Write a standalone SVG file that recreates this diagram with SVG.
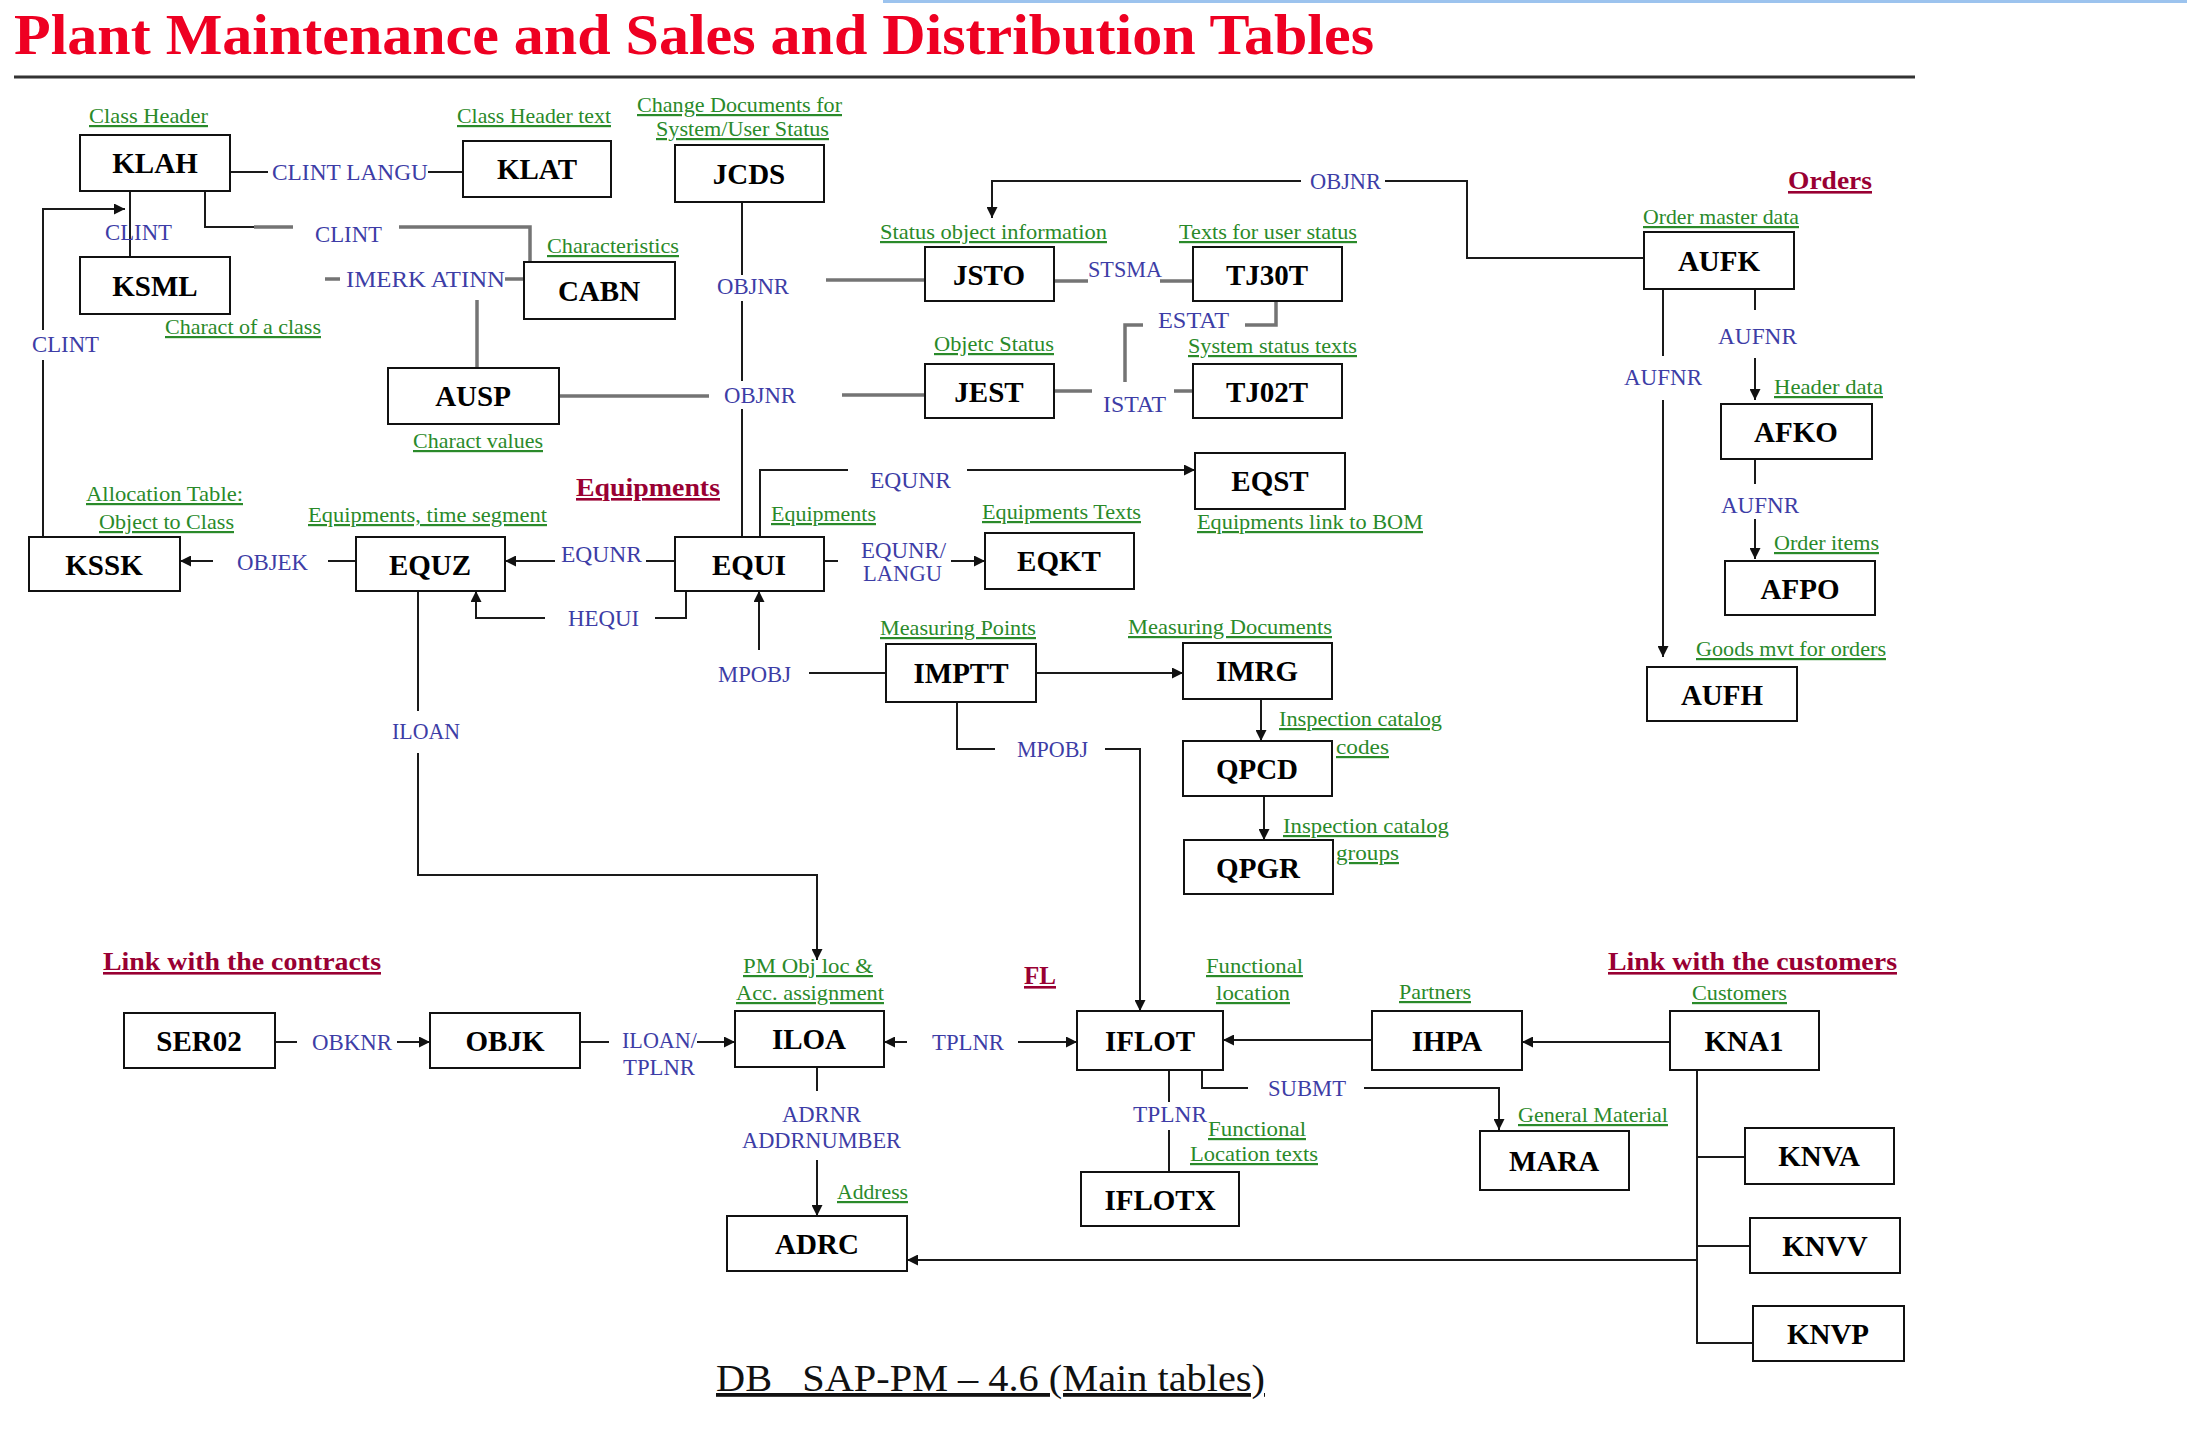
<svg xmlns="http://www.w3.org/2000/svg" width="2187" height="1445" viewBox="0 0 2187 1445">
<style>
.n rect{fill:#fff;stroke:#111;stroke-width:2}
.n text{font-family:"Liberation Serif",serif;font-weight:bold;font-size:29px;fill:#000;text-anchor:middle}
.g{font-family:"Liberation Serif",serif;font-size:22px;fill:#2a8a2a;text-decoration:underline}
.b{font-family:"Liberation Serif",serif;font-size:24px;fill:#3d3da6}
.m{font-family:"Liberation Serif",serif;font-weight:bold;font-size:26px;fill:#990033;text-decoration:underline}
.k{stroke:#1a1a1a;stroke-width:2;fill:none}
.y{stroke:#747474;stroke-width:3.5;fill:none}
.a{marker-end:url(#ah)}
</style>
<defs>
<marker id="ah" viewBox="0 0 10 10" refX="10" refY="5" markerWidth="11" markerHeight="11" markerUnits="userSpaceOnUse" orient="auto"><path d="M0,0 L10,5 L0,10 Z" fill="#111"/></marker>
</defs>
<rect width="2187" height="1445" fill="#fff"/>
<rect x="883" y="0" width="1304" height="3" fill="#9cc3ee"/>
<text x="14" y="54" font-family="Liberation Serif,serif" font-weight="bold" font-size="57" fill="#ee0022" textLength="1360" lengthAdjust="spacingAndGlyphs">Plant Maintenance and Sales and Distribution Tables</text>
<line x1="14" y1="77" x2="1915" y2="77" stroke="#333" stroke-width="3"/>

<g id="connectors">
<path class="k" d="M230,172 H268 M428,172 H463"/>
<path class="k" d="M130,191 V257"/>
<path class="k" d="M43,537 V360"/>
<path class="k a" d="M43,330 V209 H125"/>
<path class="k" d="M205,191 V227 H254"/>
<path class="y" d="M254,227 H293 M399,227 H530 V262"/>
<path class="y" d="M325,279 H340 M505,279 H524"/>
<path class="y" d="M477,300 V368"/>
<path class="y" d="M559,396 H709 M842,395 H925"/>
<path class="k" d="M742,202 V275 M742,301 V381 M742,409 V537"/>
<path class="y" d="M826,280 H925"/>
<path class="y" d="M1054,281 H1088 M1160,281 H1193"/>
<path class="y" d="M1276,301 V325 H1245 M1143,325 H1125 V382"/>
<path class="y" d="M1054,391 H1092 M1174,391 H1193"/>
<path class="k" d="M1644,258 H1467 V181 H1385"/>
<path class="k a" d="M1301,181 H992 V218"/>
<path class="k" d="M1755,289 V310"/>
<path class="k a" d="M1755,358 V400"/>
<path class="k" d="M1755,459 V484"/>
<path class="k a" d="M1755,519 V559"/>
<path class="k" d="M1663,289 V356"/>
<path class="k a" d="M1663,400 V657"/>
<path class="k" d="M760,537 V470 H848"/>
<path class="k a" d="M967,470 H1195"/>
<path class="k" d="M824,561 H838"/>
<path class="k a" d="M951,561 H985"/>
<path class="k" d="M675,561 H646"/>
<path class="k a" d="M555,561 H505"/>
<path class="k" d="M356,561 H328"/>
<path class="k a" d="M213,561 H180"/>
<path class="k" d="M686,591 V618 H655"/>
<path class="k a" d="M545,618 H476 V591"/>
<path class="k" d="M886,673 H809"/>
<path class="k a" d="M759,650 V591"/>
<path class="k a" d="M1036,673 H1183"/>
<path class="k a" d="M1261,699 V741"/>
<path class="k a" d="M1264,796 V840"/>
<path class="k" d="M957,702 V749 H995"/>
<path class="k a" d="M1105,749 H1140 V1011"/>
<path class="k" d="M418,591 V711"/>
<path class="k a" d="M418,753 V875 H817 V960"/>
<path class="k" d="M275,1042 H297"/>
<path class="k a" d="M397,1042 H430"/>
<path class="k" d="M580,1042 H609"/>
<path class="k a" d="M697,1042 H735"/>
<path class="k a" d="M907,1042 H884"/>
<path class="k a" d="M1018,1042 H1077"/>
<path class="k a" d="M1372,1040 H1223"/>
<path class="k a" d="M1670,1042 H1522"/>
<path class="k" d="M817,1067 V1091"/>
<path class="k a" d="M817,1160 V1216"/>
<path class="k" d="M1169,1070 V1102 M1169,1130 V1172"/>
<path class="k" d="M1202,1070 V1088 H1248"/>
<path class="k a" d="M1364,1088 H1499 V1130"/>
<path class="k" d="M1697,1070 V1343 H1753 M1697,1157 H1745 M1697,1246 H1750"/>
<path class="k a" d="M1697,1260 H907"/>
</g>

<g id="KLAH" class="n"><rect x="80" y="135" width="150" height="56"/><text x="155" y="173">KLAH</text></g>
<g id="KLAT" class="n"><rect x="463" y="141" width="148" height="56"/><text x="537" y="179">KLAT</text></g>
<g id="JCDS" class="n"><rect x="675" y="145" width="149" height="57"/><text x="749" y="184">JCDS</text></g>
<g id="KSML" class="n"><rect x="80" y="257" width="150" height="57"/><text x="155" y="296">KSML</text></g>
<g id="CABN" class="n"><rect x="524" y="262" width="151" height="57"/><text x="599" y="301">CABN</text></g>
<g id="JSTO" class="n"><rect x="925" y="247" width="129" height="54"/><text x="989" y="285">JSTO</text></g>
<g id="TJ30T" class="n"><rect x="1193" y="247" width="149" height="54"/><text x="1267" y="285">TJ30T</text></g>
<g id="AUSP" class="n"><rect x="388" y="368" width="171" height="56"/><text x="473" y="406">AUSP</text></g>
<g id="JEST" class="n"><rect x="925" y="364" width="129" height="54"/><text x="989" y="402">JEST</text></g>
<g id="TJ02T" class="n"><rect x="1193" y="364" width="149" height="54"/><text x="1267" y="402">TJ02T</text></g>
<g id="AUFK" class="n"><rect x="1644" y="232" width="150" height="57"/><text x="1719" y="271">AUFK</text></g>
<g id="AFKO" class="n"><rect x="1721" y="404" width="151" height="55"/><text x="1796" y="442">AFKO</text></g>
<g id="AFPO" class="n"><rect x="1725" y="561" width="150" height="54"/><text x="1800" y="599">AFPO</text></g>
<g id="AUFH" class="n"><rect x="1647" y="667" width="150" height="54"/><text x="1722" y="705">AUFH</text></g>
<g id="EQST" class="n"><rect x="1195" y="453" width="150" height="56"/><text x="1270" y="491">EQST</text></g>
<g id="KSSK" class="n"><rect x="29" y="537" width="151" height="54"/><text x="104" y="575">KSSK</text></g>
<g id="EQUZ" class="n"><rect x="356" y="537" width="149" height="54"/><text x="430" y="575">EQUZ</text></g>
<g id="EQUI" class="n"><rect x="675" y="537" width="149" height="54"/><text x="749" y="575">EQUI</text></g>
<g id="EQKT" class="n"><rect x="985" y="533" width="149" height="56"/><text x="1059" y="571">EQKT</text></g>
<g id="IMPTT" class="n"><rect x="886" y="644" width="150" height="58"/><text x="961" y="683">IMPTT</text></g>
<g id="IMRG" class="n"><rect x="1183" y="643" width="149" height="56"/><text x="1257" y="681">IMRG</text></g>
<g id="QPCD" class="n"><rect x="1183" y="741" width="149" height="55"/><text x="1257" y="779">QPCD</text></g>
<g id="QPGR" class="n"><rect x="1184" y="840" width="149" height="54"/><text x="1258" y="878">QPGR</text></g>
<g id="SER02" class="n"><rect x="124" y="1013" width="151" height="55"/><text x="199" y="1051">SER02</text></g>
<g id="OBJK" class="n"><rect x="430" y="1013" width="150" height="55"/><text x="505" y="1051">OBJK</text></g>
<g id="ILOA" class="n"><rect x="735" y="1011" width="149" height="56"/><text x="809" y="1049">ILOA</text></g>
<g id="IFLOT" class="n"><rect x="1077" y="1011" width="146" height="59"/><text x="1150" y="1051">IFLOT</text></g>
<g id="IHPA" class="n"><rect x="1372" y="1011" width="150" height="59"/><text x="1447" y="1051">IHPA</text></g>
<g id="KNA1" class="n"><rect x="1670" y="1011" width="149" height="59"/><text x="1744" y="1051">KNA1</text></g>
<g id="MARA" class="n"><rect x="1480" y="1131" width="149" height="59"/><text x="1554" y="1171">MARA</text></g>
<g id="IFLOTX" class="n"><rect x="1081" y="1172" width="158" height="54"/><text x="1160" y="1210">IFLOTX</text></g>
<g id="ADRC" class="n"><rect x="727" y="1216" width="180" height="55"/><text x="817" y="1254">ADRC</text></g>
<g id="KNVA" class="n"><rect x="1745" y="1128" width="149" height="56"/><text x="1819" y="1166">KNVA</text></g>
<g id="KNVV" class="n"><rect x="1750" y="1218" width="150" height="55"/><text x="1825" y="1256">KNVV</text></g>
<g id="KNVP" class="n"><rect x="1753" y="1306" width="151" height="55"/><text x="1828" y="1344">KNVP</text></g>

<g id="descriptions">
<text class="g" x="89" y="123" textLength="119" lengthAdjust="spacingAndGlyphs">Class Header</text>
<text class="g" x="457" y="123" textLength="154" lengthAdjust="spacingAndGlyphs">Class Header text</text>
<text class="g" x="637" y="112" textLength="205" lengthAdjust="spacingAndGlyphs">Change Documents for</text>
<text class="g" x="656" y="136" textLength="173" lengthAdjust="spacingAndGlyphs">System/User Status</text>
<text class="g" x="547" y="253" textLength="132" lengthAdjust="spacingAndGlyphs">Characteristics</text>
<text class="g" x="165" y="334" textLength="156" lengthAdjust="spacingAndGlyphs">Charact of a class</text>
<text class="g" x="880" y="239" textLength="227" lengthAdjust="spacingAndGlyphs">Status object information</text>
<text class="g" x="1179" y="239" textLength="178" lengthAdjust="spacingAndGlyphs">Texts for user status</text>
<text class="g" x="934" y="351" textLength="120" lengthAdjust="spacingAndGlyphs">Objetc Status</text>
<text class="g" x="1188" y="353" textLength="169" lengthAdjust="spacingAndGlyphs">System status texts</text>
<text class="g" x="413" y="448" textLength="130" lengthAdjust="spacingAndGlyphs">Charact values</text>
<text class="g" x="1643" y="224" textLength="156" lengthAdjust="spacingAndGlyphs">Order master data</text>
<text class="g" x="1774" y="394" textLength="109" lengthAdjust="spacingAndGlyphs">Header data</text>
<text class="g" x="1774" y="550" textLength="105" lengthAdjust="spacingAndGlyphs">Order items</text>
<text class="g" x="1696" y="656" textLength="190" lengthAdjust="spacingAndGlyphs">Goods mvt for orders</text>
<text class="g" x="86" y="501" textLength="157" lengthAdjust="spacingAndGlyphs">Allocation Table:</text>
<text class="g" x="99" y="529" textLength="135" lengthAdjust="spacingAndGlyphs">Object to Class</text>
<text class="g" x="308" y="522" textLength="239" lengthAdjust="spacingAndGlyphs">Equipments, time segment</text>
<text class="g" x="771" y="521" textLength="105" lengthAdjust="spacingAndGlyphs">Equipments</text>
<text class="g" x="982" y="519" textLength="159" lengthAdjust="spacingAndGlyphs">Equipments Texts</text>
<text class="g" x="1197" y="529" textLength="226" lengthAdjust="spacingAndGlyphs">Equipments link to BOM</text>
<text class="g" x="880" y="635" textLength="156" lengthAdjust="spacingAndGlyphs">Measuring Points</text>
<text class="g" x="1128" y="634" textLength="204" lengthAdjust="spacingAndGlyphs">Measuring Documents</text>
<text class="g" x="1279" y="726" textLength="163" lengthAdjust="spacingAndGlyphs">Inspection catalog</text>
<text class="g" x="1336" y="754" textLength="53" lengthAdjust="spacingAndGlyphs">codes</text>
<text class="g" x="1283" y="833" textLength="166" lengthAdjust="spacingAndGlyphs">Inspection catalog</text>
<text class="g" x="1336" y="860" textLength="63" lengthAdjust="spacingAndGlyphs">groups</text>
<text class="g" x="743" y="973" textLength="130" lengthAdjust="spacingAndGlyphs">PM Obj loc &amp;</text>
<text class="g" x="736" y="1000" textLength="148" lengthAdjust="spacingAndGlyphs">Acc. assignment</text>
<text class="g" x="1206" y="973" textLength="97" lengthAdjust="spacingAndGlyphs">Functional</text>
<text class="g" x="1216" y="1000" textLength="74" lengthAdjust="spacingAndGlyphs">location</text>
<text class="g" x="1399" y="999" textLength="72" lengthAdjust="spacingAndGlyphs">Partners</text>
<text class="g" x="1692" y="1000" textLength="95" lengthAdjust="spacingAndGlyphs">Customers</text>
<text class="g" x="1518" y="1122" textLength="150" lengthAdjust="spacingAndGlyphs">General Material</text>
<text class="g" x="1208" y="1136" textLength="98" lengthAdjust="spacingAndGlyphs">Functional</text>
<text class="g" x="1190" y="1161" textLength="128" lengthAdjust="spacingAndGlyphs">Location texts</text>
<text class="g" x="837" y="1199" textLength="71" lengthAdjust="spacingAndGlyphs">Address</text>
</g>

<g id="keys">
<text class="b" x="272" y="180" textLength="156" lengthAdjust="spacingAndGlyphs">CLINT LANGU</text>
<text class="b" x="105" y="240" textLength="67" lengthAdjust="spacingAndGlyphs">CLINT</text>
<text class="b" x="315" y="242" textLength="67" lengthAdjust="spacingAndGlyphs">CLINT</text>
<text class="b" x="346" y="287" textLength="159" lengthAdjust="spacingAndGlyphs">IMERK ATINN</text>
<text class="b" x="32" y="352" textLength="67" lengthAdjust="spacingAndGlyphs">CLINT</text>
<text class="b" x="717" y="294" textLength="72" lengthAdjust="spacingAndGlyphs">OBJNR</text>
<text class="b" x="724" y="403" textLength="72" lengthAdjust="spacingAndGlyphs">OBJNR</text>
<text class="b" x="1088" y="277" textLength="74" lengthAdjust="spacingAndGlyphs">STSMA</text>
<text class="b" x="1158" y="328" textLength="71" lengthAdjust="spacingAndGlyphs">ESTAT</text>
<text class="b" x="1103" y="412" textLength="63" lengthAdjust="spacingAndGlyphs">ISTAT</text>
<text class="b" x="1310" y="189" textLength="71" lengthAdjust="spacingAndGlyphs">OBJNR</text>
<text class="b" x="1718" y="344" textLength="79" lengthAdjust="spacingAndGlyphs">AUFNR</text>
<text class="b" x="1624" y="385" textLength="78" lengthAdjust="spacingAndGlyphs">AUFNR</text>
<text class="b" x="1721" y="513" textLength="78" lengthAdjust="spacingAndGlyphs">AUFNR</text>
<text class="b" x="870" y="488" textLength="81" lengthAdjust="spacingAndGlyphs">EQUNR</text>
<text class="b" x="237" y="570" textLength="71" lengthAdjust="spacingAndGlyphs">OBJEK</text>
<text class="b" x="561" y="562" textLength="81" lengthAdjust="spacingAndGlyphs">EQUNR</text>
<text class="b" x="568" y="626" textLength="71" lengthAdjust="spacingAndGlyphs">HEQUI</text>
<text class="b" x="861" y="558" textLength="85" lengthAdjust="spacingAndGlyphs">EQUNR/</text>
<text class="b" x="863" y="581" textLength="79" lengthAdjust="spacingAndGlyphs">LANGU</text>
<text class="b" x="718" y="682" textLength="73" lengthAdjust="spacingAndGlyphs">MPOBJ</text>
<text class="b" x="1017" y="757" textLength="71" lengthAdjust="spacingAndGlyphs">MPOBJ</text>
<text class="b" x="392" y="739" textLength="68" lengthAdjust="spacingAndGlyphs">ILOAN</text>
<text class="b" x="312" y="1050" textLength="80" lengthAdjust="spacingAndGlyphs">OBKNR</text>
<text class="b" x="622" y="1048" textLength="75" lengthAdjust="spacingAndGlyphs">ILOAN/</text>
<text class="b" x="623" y="1075" textLength="72" lengthAdjust="spacingAndGlyphs">TPLNR</text>
<text class="b" x="932" y="1050" textLength="72" lengthAdjust="spacingAndGlyphs">TPLNR</text>
<text class="b" x="1268" y="1096" textLength="78" lengthAdjust="spacingAndGlyphs">SUBMT</text>
<text class="b" x="1133" y="1122" textLength="74" lengthAdjust="spacingAndGlyphs">TPLNR</text>
<text class="b" x="782" y="1122" textLength="79" lengthAdjust="spacingAndGlyphs">ADRNR</text>
<text class="b" x="742" y="1148" textLength="159" lengthAdjust="spacingAndGlyphs">ADDRNUMBER</text>
</g>

<g id="sections">
<text class="m" x="1788" y="189" textLength="84" lengthAdjust="spacingAndGlyphs">Orders</text>
<text class="m" x="576" y="496" textLength="144" lengthAdjust="spacingAndGlyphs">Equipments</text>
<text class="m" x="103" y="970" textLength="278" lengthAdjust="spacingAndGlyphs">Link with the contracts</text>
<text class="m" x="1024" y="984" textLength="32" lengthAdjust="spacingAndGlyphs">FL</text>
<text class="m" x="1608" y="970" textLength="289" lengthAdjust="spacingAndGlyphs">Link with the customers</text>
</g>

<text x="716" y="1391" font-family="Liberation Serif,serif" font-size="38" fill="#111" text-decoration="underline" textLength="549" lengthAdjust="spacingAndGlyphs" xml:space="preserve">DB   SAP-PM – 4.6 (Main tables)</text>
</svg>
